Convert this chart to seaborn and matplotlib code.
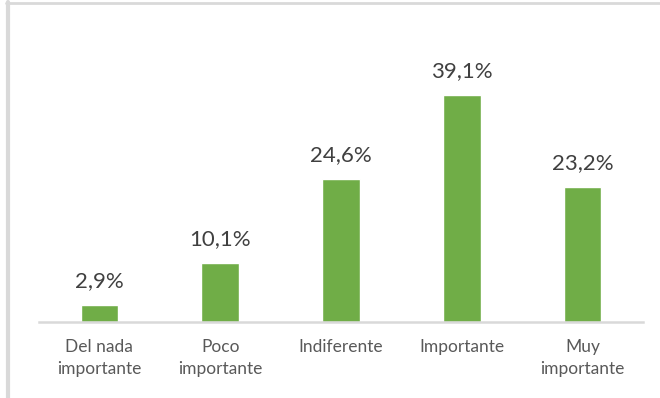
import pandas as pd
import matplotlib
matplotlib.use("Agg")
import matplotlib.pyplot as plt
import seaborn as sns
from matplotlib.lines import Line2D

categories = ["Del nada\nimportante", "Poco\nimportante", "Indiferente", "Importante", "Muy\nimportante"]
values = [2.9, 10.1, 24.6, 39.1, 23.2]
labels = ["2,9%", "10,1%", "24,6%", "39,1%", "23,2%"]

df = pd.DataFrame({"cat": categories, "val": values})

sns.set_style("white")
plt.rcParams['font.family'] = ['Lato', 'DejaVu Sans']

fig = plt.figure(figsize=(6.6, 3.98), dpi=100)
ax = fig.add_axes([39/660, 1 - 322/398, 604/660, (322 - 33)/398])

sns.barplot(data=df, x="cat", y="val", color="#70AD47", saturation=1, width=0.31, ax=ax)

ax.set_xlim(-0.5, 4.5)
ax.set_ylim(0, 49.7)
ax.set_xlabel("")
ax.set_ylabel("")
ax.set_yticks([])
for s in ["top", "right", "left"]:
    ax.spines[s].set_visible(False)
ax.spines["bottom"].set_color("#D9D9D9")
ax.spines["bottom"].set_linewidth(1.8)
ax.tick_params(axis="x", length=0, pad=12, labelsize=12.5, labelcolor="#595959")
for t in ax.get_xticklabels():
    t.set_linespacing(1.5)

for i, (v, lab) in enumerate(zip(values, labels)):
    ax.annotate(lab, (i, v), xytext=(0, 10), textcoords="offset points",
                ha="center", va="bottom", fontsize=16, color="#404040")

# outer frame (top and left only)
fig.add_artist(Line2D([7.5/660, 7.5/660], [0, 1 - 2/398], color="#D9D9D9", lw=3, transform=fig.transFigure))
fig.add_artist(Line2D([6/660, 1], [1 - 3/398, 1 - 3/398], color="#D9D9D9", lw=2, transform=fig.transFigure))

fig.savefig("out.png", dpi=100)
